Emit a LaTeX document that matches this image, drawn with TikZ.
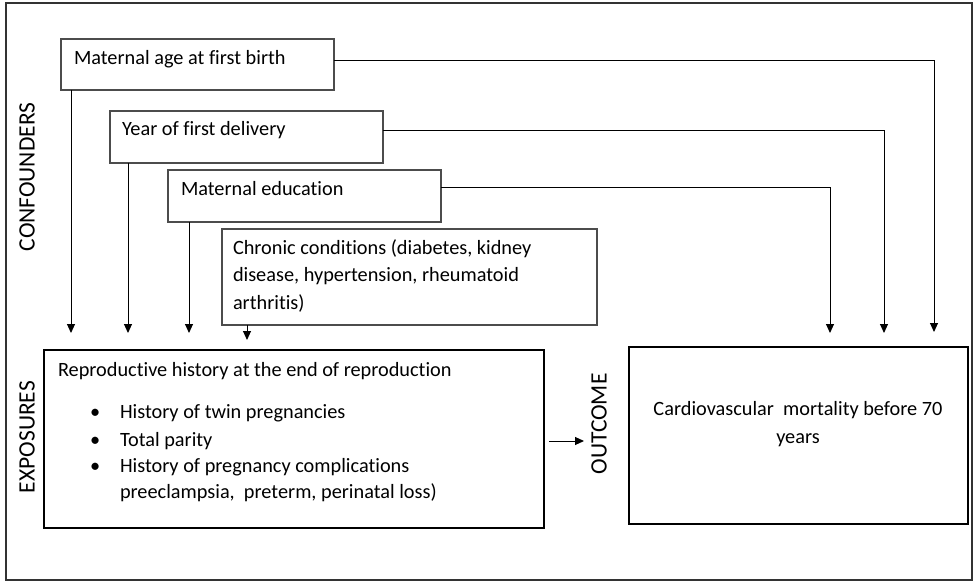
\documentclass[tikz,border=0pt]{standalone}
\usepackage{fontspec}
\setmainfont{Carlito}[Ligatures=NoCommon]
\usetikzlibrary{arrows.meta}
\begin{document}
\begin{tikzpicture}[x=1bp,y=-1bp,
  every node/.style={inner sep=0pt, outer sep=0pt},
  cbox/.style={draw=black!70, line width=1.2bp, rectangle, anchor=north west},
  bigbox/.style={draw=black, line width=2.4bp, rectangle, anchor=north west},
  txt/.style={anchor=base west, font=\fontsize{20.3bp}{27bp}\selectfont},
  lab/.style={rotate=90, font=\fontsize{23.5bp}{28bp}\selectfont},
  arr/.style={draw=black, line width=1bp, -{Triangle[length=9bp,width=8bp]}}]
\useasboundingbox (0,0) rectangle (974,582);
\draw[black!80, line width=1.5bp] (6,3) rectangle (972,580);
% confounder boxes
\node[cbox, minimum width=273bp, minimum height=51bp] (b1) at (61,39) {};
\node[txt] (t1) at (74,65) {Maternal age at first birth};
\node[cbox, minimum width=273bp, minimum height=52bp] (b2) at (110,111) {};
\node[txt] (t2) at (122,136) {Year of first delivery};
\node[cbox, minimum width=273bp, minimum height=52bp] (b3) at (168,170) {};
\node[txt] (t3) at (181,196) {Maternal education};
\node[cbox, minimum width=375bp, minimum height=96bp] (b4) at (222,229) {};
\node[txt] (t4a) at (233,255) {Chronic conditions (diabetes, kidney};
\node[txt] (t4b) at (233,282) {disease, hypertension, rheumatoid};
\node[txt] (t4c) at (233,309) {arthritis)};
% exposure box
\node[bigbox, minimum width=500bp, minimum height=178bp] (ex) at (44,350) {};
\node[txt] (e0) at (58,376) {Reproductive history at the end of reproduction};
\node[txt] (eb1) at (90,418) {\textbullet};
\node[txt] (e1) at (120,418) {History of twin pregnancies};
\node[txt] (eb2) at (90,446) {\textbullet};
\node[txt] (e2) at (120,446) {Total parity};
\node[txt] (eb3) at (90,472) {\textbullet};
\node[txt] (e3) at (120,472) {History of pregnancy complications};
\node[txt] (e4) at (120,498) {preeclampsia,\ \ preterm,\ perinatal loss)};
% outcome box
\node[bigbox, minimum width=339bp, minimum height=177bp] (oc) at (629,347) {};
\node[anchor=base, font=\fontsize{20.3bp}{27bp}\selectfont] (o1) at (798,415) {Cardiovascular\ \ mortality before 70};
\node[anchor=base, font=\fontsize{20.3bp}{27bp}\selectfont] (o2) at (798,443) {years};
% side labels
\node[lab] (lc) at (27,177) {CONFOUNDERS};
\node[lab] (le) at (27,437) {EXPOSURES};
\node[lab] (lo) at (599,424) {OUTCOME};
% arrow end points
\coordinate (d1) at (71,333);
\coordinate (d2) at (128,333);
\coordinate (d3) at (189,333);
\coordinate (d4) at (247,340);
\coordinate (r1) at (934,332);
\coordinate (r2) at (884,333);
\coordinate (r3) at (830,333);
\coordinate (a1) at (549,441);
\coordinate (a2) at (584,441);
\draw[arr] (b1.south -| d1) -- (d1);
\draw[arr] (b2.south -| d2) -- (d2);
\draw[arr] (b3.south -| d3) -- (d3);
\draw[arr] (b4.south -| d4) -- (d4);
\draw[arr] ([yshift=4bp]b1.east) -| (r1);
\draw[arr] ([yshift=6bp]b2.east) -| (r2);
\draw[arr] ([yshift=8bp]b3.east) -| (r3);
\draw[arr] (a1) -- (a2);
\end{tikzpicture}
\end{document}
